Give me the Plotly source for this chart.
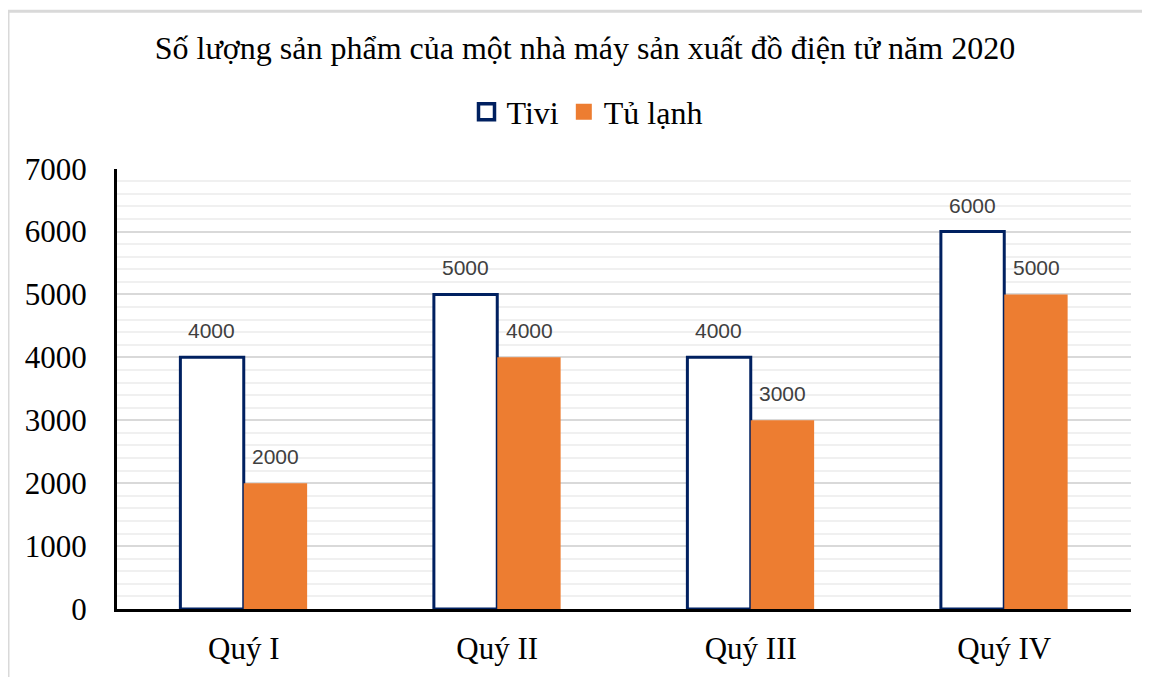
import plotly.graph_objects as go

categories = ["Quý I", "Quý II", "Quý III", "Quý IV"]
tivi = [4000, 5000, 4000, 6000]
tu_lanh = [2000, 4000, 3000, 5000]
series_names = ["Tivi", "Tủ lạnh"]
title_text = "Số lượng sản phẩm của một nhà máy sản xuất đồ điện tử năm 2020"

NAVY = "#002060"
ORANGE = "#ED7D31"
SERIF = "Liberation Serif, Times New Roman, serif"
SANS = "Liberation Sans, Arial, sans-serif"

W, H = 1150, 677
OFF = 8  # page body margin offset
L, R, T, B = 117 - OFF, 19 + OFF, 167 - OFF, 68 + OFF
PW = W - L - R
PH = H - T - B

fig = go.Figure()
fig.add_trace(go.Bar(
    x=categories, y=tivi, name=series_names[0], showlegend=False,
    marker=dict(color="white", line=dict(color=NAVY, width=3)),
))
fig.add_trace(go.Bar(
    x=categories, y=tu_lanh, name=series_names[1], showlegend=False,
    marker=dict(color=ORANGE, line=dict(color=ORANGE, width=0)),
))
# legend entries
fig.add_trace(go.Scatter(
    x=[None], y=[None], mode="markers", name=series_names[0],
    marker=dict(symbol="square", size=17, color="white", line=dict(color=NAVY, width=3.5)),
))
fig.add_trace(go.Scatter(
    x=[None], y=[None], mode="markers", name=series_names[1],
    marker=dict(symbol="square", size=19, color=ORANGE, line=dict(width=0)),
))

annotations = []
for vals, shift in ((tivi, -32), (tu_lanh, 32)):
    for c, v in zip(categories, vals):
        annotations.append(dict(
            x=c, y=v, xref="x", yref="y", text=str(v), showarrow=False,
            xshift=shift, yshift=13, yanchor="bottom",
            font=dict(family=SANS, size=21, color="#404040"),
        ))

fig.update_layout(
    width=W, height=H,
    margin=dict(l=L, r=R, t=T, b=B),
    paper_bgcolor="white", plot_bgcolor="white",
    barmode="group", bargap=0.5, bargroupgap=0,
    title=dict(text=title_text, x=(585 - OFF) / W, xref="container", xanchor="center",
               y=1 - (48 - OFF) / H, yref="container", yanchor="middle",
               font=dict(family=SERIF, size=32, color="black")),
    legend=dict(orientation="h", x=(587 - OFF) / W, xref="container", xanchor="center",
                y=1 - (112 - OFF) / H, yref="container", yanchor="middle",
                font=dict(family=SERIF, size=32, color="black"),
                itemwidth=30, traceorder="normal", tracegroupgap=0),
    annotations=annotations,
    shapes=[dict(type="rect", xref="paper", yref="paper",
                 x0=(8 - OFF - L) / PW, x1=(1170 - L) / PW,
                 y0=-(H + 20 - (H - B)) / PH, y1=(H - B - (9 - OFF)) / PH,
                 line=dict(color="#D9D9D9", width=3), layer="below")],
)
fig.update_yaxes(
    range=[0, 7000], dtick=1000, showgrid=True, gridcolor="#D9D9D9", gridwidth=1.5,
    minor=dict(dtick=200, showgrid=True, gridcolor="#F0F0F0", gridwidth=1.5),
    showline=True, linecolor="black", linewidth=3, zeroline=False,
    tickfont=dict(family=SERIF, size=31, color="black"),
    ticks="", ticklabelstandoff=21,
)
fig.update_xaxes(
    showline=True, linecolor="black", linewidth=3,
    tickfont=dict(family=SERIF, size=31, color="black"),
    ticks="", ticklabelstandoff=10,
)
fig.write_html("out.html")
